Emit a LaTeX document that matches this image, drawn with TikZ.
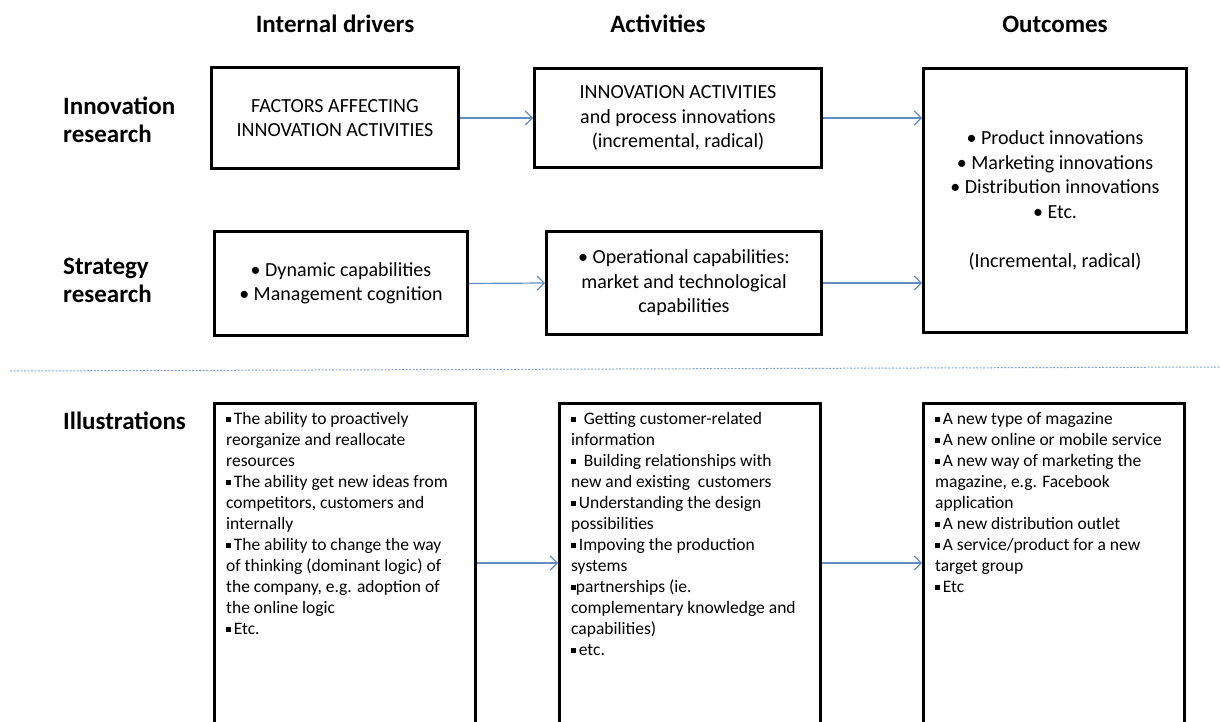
\documentclass[tikz,border=0pt]{standalone}
\usepackage{fontspec}
\setmainfont{Carlito}
\usetikzlibrary{arrows.meta}
\definecolor{arrowblue}{RGB}{100,140,192}
\definecolor{sepblue}{RGB}{130,165,215}
% 小方块项目符号
\newcommand{\sqb}{\raisebox{0.3ex}{\rule{0.27em}{0.27em}}}

\begin{document}
\begin{tikzpicture}[x=1pt, y=-1pt,
    box/.style={draw, line width=3pt, inner sep=0pt},
    boxtext/.style={align=center, font=\fontsize{20}{24.5}\selectfont},
    illtext/.style={align=left, inner sep=0pt, anchor=north west, font=\fontsize{17.5}{21}\selectfont},
    head/.style={inner sep=0pt, font=\fontsize{25}{28}\selectfont\bfseries},
    flow/.style={draw=arrowblue, line width=1.2pt, -{Straight Barb[length=7pt, width=14pt]}}]

    \useasboundingbox (0,0) rectangle (1221,722);
    \clip (0,0) rectangle (1221,722);

    % 列标题
    \node[head] (hdrv) at (335,24) {Internal drivers};
    \node[head] (hact) at (658,24) {Activities};
    \node[head] (hout) at (1055,24) {Outcomes};

    % 行标题
    \node[head, align=left, anchor=west] (rinn) at (63,120) {Innovation\\research};
    \node[head, align=left, anchor=west] (rstr) at (63,280) {Strategy\\research};
    \node[head, anchor=west] (rill) at (63,421) {Illustrations};

    % 上面两行的方框
    \node[box, boxtext, minimum width=247, minimum height=101] (fac) at (335,118)
        {FACTORS AFFECTING\\INNOVATION ACTIVITIES};
    \node[box, boxtext, minimum width=287, minimum height=99] (act) at (678,118)
        {INNOVATION ACTIVITIES\\and process innovations\\(incremental, radical)};
    \node[box, boxtext, minimum width=263, minimum height=264] (out) at (1055,200.5)
        {\textbullet\ Product innovations\\\textbullet\ Marketing innovations\\
         \textbullet\ Distribution innovations\\\textbullet\ Etc.\\[24.5pt]
         (Incremental, radical)};
    \node[box, boxtext, minimum width=253, minimum height=104] (dyn) at (341,283.5)
        {\textbullet\ Dynamic capabilities\\\textbullet\ Management cognition};
    \node[box, boxtext, minimum width=275, minimum height=103] (ops) at (684,283)
        {\textbullet\ Operational capabilities:\\market and technological\\capabilities};

    % 箭头
    \draw[flow] (fac.east) -- (act.west);
    \draw[flow] (act.east) -- (act.east -| out.west);
    \draw[flow] (dyn.east) -- (ops.west);
    \draw[flow] (ops.east) -- (ops.east -| out.west);

    % 虚线分隔
    \coordinate (sepL) at (10,371);
    \coordinate (sepR) at (1221,367);
    \draw[sepblue, line width=1pt, dash pattern=on 2pt off 1.5pt] (sepL) -- (sepR);

    % 下面的例子方框 (底边超出画面)
    \node[box, minimum width=261, minimum height=355] (ill1) at (345,581) {};
    \node[box, minimum width=261, minimum height=355] (ill2) at (690,581) {};
    \node[box, minimum width=261, minimum height=355] (ill3) at (1054,581) {};

    \node[illtext] (ill1t) at ([xshift=13pt, yshift=-10pt]ill1.north west) {%
        \sqb\,The ability to proactively\\
        reorganize and reallocate\\
        resources\\
        \sqb\,The ability get new ideas from\\
        competitors, customers and\\
        internally\\
        \sqb\,The ability to change the way\\
        of thinking (dominant logic) of\\
        the company, e.g. adoption of\\
        the online logic\\
        \sqb\,Etc.};
    \node[illtext] (ill2t) at ([xshift=13pt, yshift=-10pt]ill2.north west) {%
        \sqb\ \ Getting customer-related\\
        information\\
        \sqb\ \ Building relationships with\\
        new and existing\ \ customers\\
        \sqb\,Understanding the design\\
        possibilities\\
        \sqb\,Impoving the production\\
        systems\\
        \sqb partnerships (ie.\\
        complementary knowledge and\\
        capabilities)\\
        \sqb\,etc.};
    \node[illtext] (ill3t) at ([xshift=13pt, yshift=-10pt]ill3.north west) {%
        \sqb\,A new type of magazine\\
        \sqb\,A new online or mobile service\\
        \sqb\,A new way of marketing the\\
        magazine, e.g. Facebook\\
        application\\
        \sqb\,A new distribution outlet\\
        \sqb\,A service/product for a new\\
        target group\\
        \sqb\,Etc};

    \coordinate (illmid) at (0,563);
    \draw[flow] (ill1.east |- illmid) -- (ill2.west |- illmid);
    \draw[flow] (ill2.east |- illmid) -- (ill3.west |- illmid);
\end{tikzpicture}
\end{document}
